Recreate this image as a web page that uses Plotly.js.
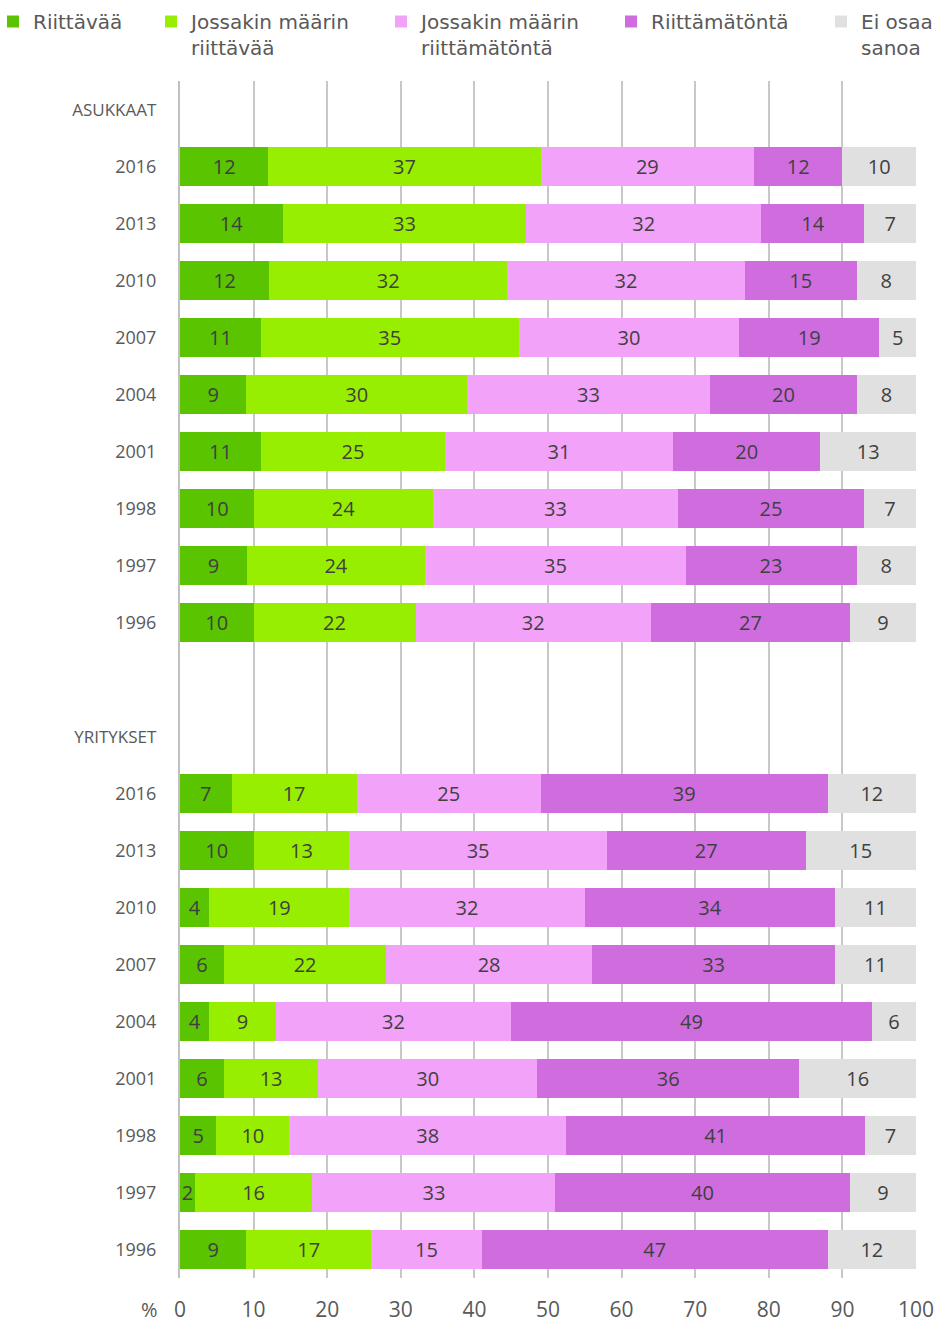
<!DOCTYPE html>
<html>
<head>
<meta charset="utf-8">
<script src="https://cdn.plot.ly/plotly-3.0.1.min.js"></script>
<style>
html,body{margin:0;padding:0;background:#fff;}
#chart{width:939px;height:1322px;}
</style>
</head>
<body>
<div id="chart"></div>
<script>
// ---- DATA ----
var years = ['2016','2013','2010','2007','2004','2001','1998','1997','1996'];
var groupLabels = ['ASUKKAAT','YRITYKSET'];
var seriesNames = ['Riittävää','Jossakin määrin<br>riittävää','Jossakin määrin<br>riittämätöntä','Riittämätöntä','Ei osaa<br>sanoa'];

// Asukkaat (residents), per year, in order of years
var asuRiittava      = [12, 14, 12, 11,  9, 11, 10,  9, 10];
var asuJossRiittava  = [37, 33, 32, 35, 30, 25, 24, 24, 22];
var asuJossRiittamat = [29, 32, 32, 30, 33, 31, 33, 35, 32];
var asuRiittamat     = [12, 14, 15, 19, 20, 20, 25, 23, 27];
var asuEiOsaa        = [10,  7,  8,  5,  8, 13,  7,  8,  9];

// Yritykset (companies)
var yriRiittava      = [ 7, 10,  4,  6,  4,  6,  5,  2,  9];
var yriJossRiittava  = [17, 13, 19, 22,  9, 13, 10, 16, 17];
var yriJossRiittamat = [25, 35, 32, 28, 32, 30, 38, 33, 15];
var yriRiittamat     = [39, 27, 34, 33, 49, 36, 41, 40, 47];
var yriEiOsaa        = [12, 15, 11, 11,  6, 16,  7,  9, 12];

var xTicks = [0,10,20,30,40,50,60,70,80,90,100];

// ---- STYLE / LAYOUT ----
var colors = ['#5ac400','#98ee00','#f2a2f8','#cf6ddf','#e0e0e0'];
var FONT = 'Open Sans, DejaVu Sans, sans-serif';
var LFONT = 'DejaVu Sans, sans-serif';
var W = 939, H = 1322;
var asuRow0 = 1, yriRow0 = 12, headerRows = [0, 11];

var asuSeries = [asuRiittava, asuJossRiittava, asuJossRiittamat, asuRiittamat, asuEiOsaa];
var yriSeries = [yriRiittava, yriJossRiittava, yriJossRiittamat, yriRiittamat, yriEiOsaa];

var rowsAsu = years.map(function(_, i){ return asuRow0 + i; });
var rowsYri = years.map(function(_, i){ return yriRow0 + i; });

var tickvals = headerRows.concat(rowsAsu, rowsYri);
var ticktext = groupLabels.map(function(g){ return '<span style="font-size:17px">'+g+'</span>'; })
  .concat(years, years);

var plotL = 180, plotR = 916, plotT = 81, plotB = 1278;
function px2paperX(p){ return (p - plotL) / (plotR - plotL); }
function px2paperY(p){ return 1 + (plotT - p) / (plotB - plotT); }

// legend text start targets (pixels)
var legendTextX = [33, 191, 421, 651, 861];

var traces = [];
var layoutLegends = {};
for (var s = 0; s < 5; s++) {
  var lname = s === 0 ? 'legend' : 'legend' + (s + 1);
  var vals = asuSeries[s].concat(yriSeries[s]);
  traces.push({
    type: 'bar',
    orientation: 'h',
    name: seriesNames[s],
    x: vals,
    y: rowsAsu.concat(rowsYri),
    text: vals.map(String),
    texttemplate: '%{text}',
    textposition: 'inside',
    insidetextanchor: 'middle',
    textangle: 0,
    constraintext: 'none',
    textfont: {family: FONT, size: 20, color: '#404040'},
    marker: {color: colors[s], line: {width: 0}},
    width: 0.67,
    legend: lname,
    hoverinfo: 'skip'
  });
  layoutLegends[lname] = {
    x: px2paperX(legendTextX[s] - 40),
    xanchor: 'left',
    y: px2paperY(2),
    yanchor: 'top',
    orientation: 'h',
    valign: 'top',
    bgcolor: 'rgba(0,0,0,0)',
    font: {family: LFONT, size: 20, color: '#595959'},
    itemclick: false
  };
}

var layout = {
  width: W, height: H,
  margin: {l: plotL, r: W - plotR, t: plotT, b: H - plotB, pad: 0, autoexpand: false},
  paper_bgcolor: '#fff', plot_bgcolor: '#fff',
  barmode: 'stack',
  barnorm: 'percent',
  showlegend: true,
  xaxis: {
    range: [0, 100],
    tickvals: xTicks,
    ticktext: xTicks.map(String),
    showgrid: true, gridcolor: '#c8c8c8', gridwidth: 2,
    zeroline: false, showline: false,
    ticks: '', ticklabelstandoff: 17,
    tickfont: {family: FONT, size: 21, color: '#595959'},
    fixedrange: true
  },
  yaxis: {
    range: [20.5, -0.5],
    tickvals: tickvals,
    ticktext: ticktext,
    showgrid: false, zeroline: false,
    showline: true, linecolor: '#c0c0c0', linewidth: 2,
    ticks: '', ticklabelstandoff: 18,
    tickfont: {family: FONT, size: 18, color: '#595959'},
    fixedrange: true
  },
  annotations: [{
    text: '%', xref: 'paper', yref: 'paper', x: 0, y: 0,
    xanchor: 'right', yanchor: 'top', xshift: -20, yshift: -16,
    showarrow: false, font: {family: FONT, size: 20, color: '#595959'}
  }]
};
for (var k in layoutLegends) layout[k] = layoutLegends[k];

Plotly.newPlot('chart', traces, layout, {displayModeBar: false, staticPlot: true});
</script>
</body>
</html>
